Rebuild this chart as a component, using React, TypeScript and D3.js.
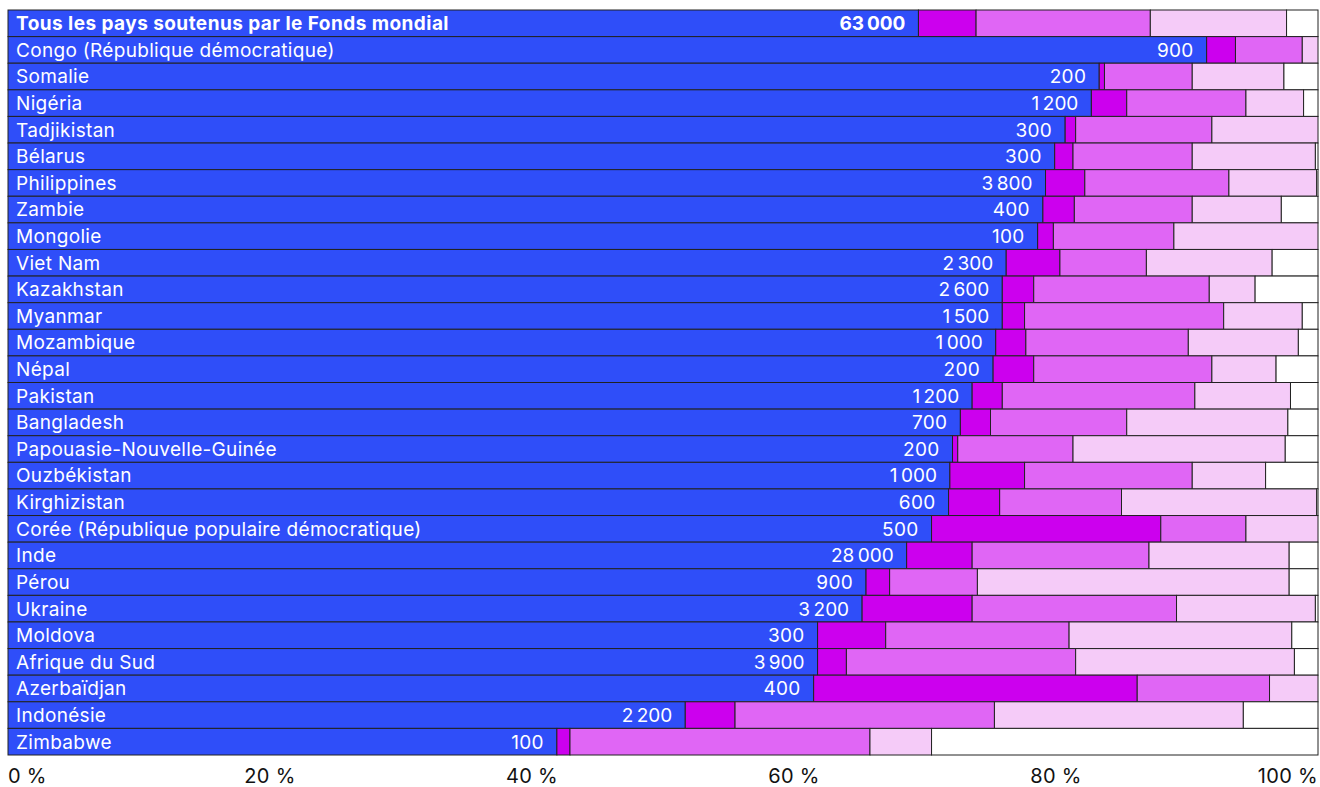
import React from "react";
import * as d3 from "d3";

const categories = [
  "Tous les pays soutenus par le Fonds mondial",
  "Congo (République démocratique)",
  "Somalie",
  "Nigéria",
  "Tadjikistan",
  "Bélarus",
  "Philippines",
  "Zambie",
  "Mongolie",
  "Viet Nam",
  "Kazakhstan",
  "Myanmar",
  "Mozambique",
  "Népal",
  "Pakistan",
  "Bangladesh",
  "Papouasie-Nouvelle-Guinée",
  "Ouzbékistan",
  "Kirghizistan",
  "Corée (République populaire démocratique)",
  "Inde",
  "Pérou",
  "Ukraine",
  "Moldova",
  "Afrique du Sud",
  "Azerbaïdjan",
  "Indonésie",
  "Zimbabwe",
];

const counts = [
  63000, 900, 200, 1200, 300, 300, 3800, 400, 100, 2300, 2600, 1500, 1000, 200,
  1200, 700, 200, 1000, 600, 500, 28000, 900, 3200, 300, 3900, 400, 2200, 100,
];

// share of each segment (%)
const series1 = [
  69.5, 91.5, 83.3, 82.7, 80.7, 79.9, 79.2, 79.0, 78.6, 76.2, 75.9, 75.9, 75.4, 75.2,
  73.6, 72.7, 72.1, 71.9, 71.8, 70.5, 68.6, 65.5, 65.2, 61.8, 61.8, 61.5, 51.7, 41.9,
];
const series2 = [
  4.4, 2.2, 0.4, 2.7, 0.8, 1.4, 3.0, 2.4, 1.2, 4.1, 2.4, 1.7, 2.3, 3.1,
  2.3, 2.3, 0.4, 5.7, 3.9, 17.5, 5.0, 1.8, 8.4, 5.2, 2.2, 24.7, 3.8, 1.0,
];
const series3 = [
  13.3, 5.1, 6.7, 9.1, 10.4, 9.1, 11.0, 9.0, 9.2, 6.6, 13.4, 15.2, 12.4, 13.6,
  14.7, 10.4, 8.8, 12.8, 9.3, 6.5, 13.5, 6.7, 15.6, 14.0, 17.5, 10.1, 19.8, 22.9,
];
const series4 = [
  10.4, 1.2, 7.0, 4.4, 8.1, 9.4, 6.7, 6.8, 11.0, 9.6, 3.5, 6.0, 8.4, 4.9,
  7.3, 12.3, 16.2, 5.6, 14.9, 5.5, 10.7, 23.8, 10.6, 17.0, 16.7, 3.7, 19.0, 4.7,
];
const series5 = [
  2.4, 0, 2.6, 1.1, 0, 0.2, 0.1, 2.8, 0, 3.5, 4.8, 1.2, 1.5, 3.2,
  2.1, 2.3, 2.5, 4.0, 0.1, 0, 2.2, 2.2, 0.2, 2.0, 1.8, 0, 5.7, 29.5,
];

const tickValues = [0, 20, 40, 60, 80, 100];
const seriesList = [series1, series2, series3, series4, series5];
const colors = ["#2F4EF9", "#CC00EE", "#E066F5", "#F5CBF8", "#FFFFFF"];

const W = 1320;
const H = 787;
const margin = { left: 8, right: 2, top: 10, bottom: 32 };

const fr = d3.formatLocale({
  decimal: ",",
  thousands: "\u202f",
  grouping: [3],
  currency: ["", " €"],
});
const fmt = fr.format(",d");

export default function App() {
  const x = d3
    .scaleLinear()
    .domain([0, 100])
    .range([margin.left, W - margin.right]);
  const y = d3
    .scaleBand<number>()
    .domain(d3.range(categories.length))
    .range([margin.top, H - margin.bottom])
    .padding(0);

  const rows = categories.map((c, i) => {
    const segs = seriesList.map((s) => s[i]);
    let acc = 0;
    const parts = segs.map((v, k) => {
      const start = acc;
      acc += v;
      return { k, start, end: k === segs.length - 1 ? 100 : acc, v };
    });
    return { c, i, parts };
  });

  const font = "Inter, 'Noto Sans', sans-serif";

  return (
    <svg
      width={W}
      height={H}
      style={{ position: "absolute", left: 0, top: 0, background: "#fff" }}
      fontFamily={font}
    >
      {rows.map((r) => {
        const y0 = y(r.i) as number;
        const bh = y.bandwidth();
        const blueEnd = x(r.parts[0].end);
        const bold = r.i === 0;
        return (
          <g key={r.c}>
            {r.parts
              .filter((p) => p.v > 0)
              .map((p) => (
                <rect
                  key={p.k}
                  x={x(p.start)}
                  y={y0}
                  width={x(p.end) - x(p.start)}
                  height={bh}
                  fill={colors[p.k]}
                  stroke="#222"
                  strokeWidth={1}
                />
              ))}
            <text
              x={16}
              y={y0 + bh / 2}
              dy="0.36em"
              fill="#fff"
              fontSize={19}
              letterSpacing={bold ? 0.45 : 0.32}
              fontWeight={bold ? 700 : 400}
            >
              {r.c}
            </text>
            <text
              x={blueEnd - 13}
              y={y0 + bh / 2}
              dy="0.36em"
              fill="#fff"
              fontSize={19}
              letterSpacing={bold ? 0.45 : 0.32}
              textAnchor="end"
              fontWeight={bold ? 700 : 400}
            >
              {fmt(counts[r.i])}
            </text>
          </g>
        );
      })}
      {tickValues.map((t, i) => (
        <text
          key={t}
          x={x(t)}
          y={H - 4}
          fill="#111"
          fontSize={20}
          letterSpacing={0.3}
          textAnchor={i === 0 ? "start" : i === tickValues.length - 1 ? "end" : "middle"}
        >
          {`${t} %`}
        </text>
      ))}
    </svg>
  );
}
